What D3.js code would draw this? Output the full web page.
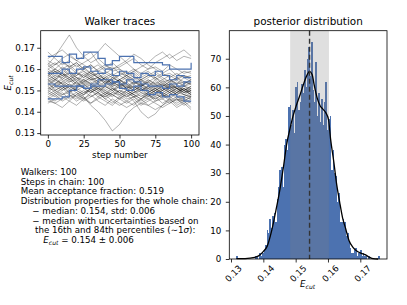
<!DOCTYPE html>
<html>
<head>
<meta charset="utf-8">
<script src="https://cdn.jsdelivr.net/npm/d3@7"></script>
<style>
  body { margin: 0; background: #fff; }
  svg { display: block; font-family: "DejaVu Sans", sans-serif; }
</style>
</head>
<body>
<svg id="chart" width="407" height="305"></svg>
<script>
// ---- data ----

// walker traces, sampled every 5 steps (step 0 .. 100)
const traceSteps = d3.range(0, 101, 5);
const grayTraces = [
  [0.158,0.160,0.163,0.161,0.158,0.157,0.155,0.156,0.154,0.152,0.153,0.151,0.152,0.150,0.151,0.149,0.150,0.152,0.151,0.149,0.150],
  [0.151,0.150,0.148,0.149,0.147,0.149,0.150,0.148,0.147,0.149,0.148,0.146,0.147,0.149,0.148,0.150,0.148,0.147,0.149,0.148,0.147],
  [0.162,0.166,0.171,0.176,0.170,0.166,0.168,0.163,0.160,0.161,0.158,0.157,0.159,0.156,0.158,0.155,0.157,0.158,0.156,0.157,0.155],
  [0.145,0.144,0.146,0.148,0.145,0.147,0.143,0.140,0.136,0.131,0.134,0.139,0.142,0.144,0.143,0.145,0.146,0.144,0.146,0.145,0.147],
  [0.155,0.157,0.156,0.154,0.155,0.153,0.155,0.156,0.154,0.155,0.153,0.152,0.154,0.153,0.151,0.152,0.153,0.151,0.152,0.150,0.151],
  [0.160,0.158,0.161,0.159,0.157,0.160,0.162,0.159,0.158,0.156,0.157,0.159,0.156,0.155,0.157,0.156,0.154,0.155,0.153,0.154,0.153],
  [0.148,0.150,0.152,0.149,0.151,0.153,0.150,0.152,0.149,0.148,0.150,0.149,0.147,0.148,0.146,0.148,0.147,0.149,0.147,0.146,0.148],
  [0.164,0.162,0.165,0.167,0.164,0.166,0.163,0.165,0.162,0.160,0.161,0.163,0.160,0.158,0.160,0.161,0.159,0.162,0.160,0.158,0.159],
  [0.153,0.151,0.154,0.156,0.153,0.151,0.149,0.151,0.150,0.152,0.149,0.147,0.149,0.150,0.148,0.146,0.148,0.150,0.148,0.147,0.149],
  [0.157,0.159,0.157,0.160,0.162,0.159,0.157,0.158,0.155,0.157,0.154,0.156,0.153,0.155,0.152,0.154,0.152,0.153,0.155,0.152,0.154],
  [0.146,0.148,0.145,0.147,0.149,0.147,0.144,0.146,0.148,0.145,0.143,0.145,0.147,0.144,0.146,0.144,0.142,0.144,0.146,0.143,0.145],
  [0.159,0.156,0.158,0.155,0.157,0.159,0.156,0.154,0.156,0.153,0.155,0.157,0.154,0.152,0.154,0.152,0.150,0.152,0.150,0.152,0.151],
  [0.150,0.153,0.151,0.153,0.150,0.148,0.151,0.149,0.152,0.150,0.152,0.150,0.148,0.150,0.152,0.149,0.151,0.149,0.151,0.149,0.150],
  [0.168,0.165,0.162,0.164,0.161,0.163,0.165,0.168,0.172,0.169,0.166,0.163,0.165,0.162,0.160,0.163,0.165,0.167,0.164,0.166,0.165],
  [0.154,0.156,0.153,0.155,0.152,0.154,0.156,0.153,0.151,0.153,0.155,0.152,0.150,0.152,0.150,0.148,0.150,0.152,0.149,0.151,0.149],
  [0.152,0.149,0.147,0.145,0.148,0.146,0.144,0.147,0.145,0.143,0.146,0.144,0.146,0.143,0.145,0.147,0.144,0.146,0.143,0.145,0.142],
  [0.161,0.163,0.160,0.162,0.159,0.161,0.158,0.160,0.162,0.159,0.160,0.158,0.160,0.157,0.159,0.156,0.158,0.160,0.157,0.159,0.158],
  [0.149,0.147,0.150,0.152,0.150,0.148,0.150,0.147,0.149,0.151,0.148,0.150,0.148,0.146,0.149,0.147,0.149,0.147,0.145,0.147,0.146],
  [0.156,0.154,0.152,0.154,0.156,0.155,0.153,0.155,0.157,0.154,0.152,0.154,0.151,0.153,0.155,0.153,0.151,0.153,0.151,0.150,0.152],
  [0.144,0.146,0.149,0.146,0.148,0.150,0.147,0.149,0.146,0.148,0.146,0.149,0.147,0.145,0.147,0.149,0.146,0.148,0.150,0.148,0.147],
  [0.163,0.160,0.158,0.161,0.163,0.160,0.158,0.156,0.158,0.160,0.162,0.164,0.167,0.165,0.162,0.160,0.158,0.156,0.158,0.156,0.157],
  [0.157,0.155,0.157,0.158,0.156,0.154,0.156,0.158,0.155,0.153,0.155,0.153,0.151,0.153,0.151,0.153,0.155,0.152,0.154,0.152,0.153],
  [0.147,0.149,0.151,0.148,0.146,0.148,0.151,0.149,0.147,0.149,0.152,0.150,0.148,0.146,0.148,0.146,0.148,0.145,0.147,0.145,0.147],
  [0.155,0.152,0.150,0.152,0.154,0.151,0.149,0.152,0.154,0.151,0.149,0.147,0.149,0.151,0.149,0.151,0.149,0.151,0.148,0.150,0.148],
  [0.160,0.162,0.164,0.161,0.163,0.160,0.162,0.159,0.161,0.163,0.160,0.157,0.159,0.161,0.163,0.166,0.168,0.165,0.167,0.169,0.166],
  [0.151,0.153,0.155,0.152,0.150,0.152,0.154,0.151,0.149,0.147,0.150,0.148,0.145,0.140,0.137,0.139,0.143,0.146,0.144,0.146,0.144],
  [0.158,0.155,0.153,0.150,0.152,0.155,0.153,0.151,0.153,0.156,0.154,0.151,0.153,0.155,0.153,0.150,0.152,0.154,0.156,0.153,0.155],
  [0.153,0.155,0.158,0.156,0.159,0.156,0.158,0.156,0.153,0.155,0.157,0.155,0.157,0.154,0.156,0.158,0.155,0.157,0.155,0.157,0.156],
  [0.146,0.144,0.142,0.145,0.143,0.146,0.148,0.145,0.143,0.146,0.144,0.142,0.144,0.146,0.143,0.141,0.143,0.145,0.142,0.144,0.141],
  [0.165,0.167,0.169,0.166,0.164,0.162,0.160,0.162,0.159,0.157,0.159,0.156,0.158,0.155,0.157,0.159,0.156,0.154,0.156,0.154,0.153],
  [0.150,0.148,0.151,0.153,0.151,0.149,0.151,0.153,0.150,0.148,0.146,0.148,0.150,0.152,0.149,0.151,0.153,0.150,0.152,0.150,0.148],
  [0.157,0.160,0.158,0.156,0.153,0.155,0.157,0.154,0.156,0.158,0.155,0.153,0.150,0.152,0.154,0.151,0.149,0.151,0.153,0.150,0.152],
  [0.154,0.150,0.152,0.149,0.151,0.154,0.152,0.150,0.148,0.151,0.149,0.152,0.150,0.147,0.149,0.151,0.148,0.150,0.148,0.151,0.149],
  [0.156,0.159,0.155,0.158,0.154,0.157,0.159,0.156,0.153,0.156,0.154,0.151,0.154,0.152,0.155,0.153,0.150,0.153,0.151,0.149,0.151],
  [0.152,0.155,0.153,0.151,0.154,0.151,0.153,0.150,0.152,0.150,0.147,0.150,0.152,0.149,0.147,0.150,0.148,0.146,0.149,0.151,0.148],
  [0.159,0.157,0.160,0.157,0.155,0.158,0.155,0.153,0.156,0.153,0.151,0.154,0.156,0.153,0.150,0.152,0.154,0.151,0.149,0.152,0.150],
  [0.149,0.152,0.154,0.151,0.149,0.146,0.149,0.151,0.148,0.150,0.153,0.151,0.149,0.151,0.148,0.150,0.152,0.149,0.151,0.148,0.150],
  [0.155,0.153,0.156,0.159,0.156,0.153,0.151,0.154,0.152,0.154,0.152,0.155,0.153,0.150,0.152,0.155,0.152,0.154,0.151,0.153,0.155],
  [0.162,0.159,0.157,0.155,0.158,0.156,0.159,0.157,0.155,0.152,0.155,0.157,0.155,0.152,0.154,0.156,0.153,0.155,0.153,0.156,0.154],
  [0.147,0.145,0.148,0.150,0.147,0.145,0.147,0.149,0.146,0.144,0.147,0.145,0.143,0.146,0.148,0.145,0.147,0.149,0.146,0.144,0.146]
];
const blueTraces = [
  [0.166,0.166,0.163,0.167,0.165,0.168,0.168,0.165,0.162,0.164,0.166,0.166,0.163,0.163,0.163,0.163,0.162,0.160,0.160,0.160,0.163],
  [0.146,0.146,0.147,0.150,0.152,0.151,0.153,0.155,0.155,0.154,0.151,0.150,0.152,0.150,0.148,0.149,0.147,0.148,0.147,0.145,0.145],
  [0.158,0.158,0.160,0.158,0.160,0.161,0.159,0.158,0.160,0.157,0.159,0.158,0.156,0.158,0.157,0.159,0.157,0.155,0.157,0.156,0.156],
  [0.153,0.152,0.152,0.152,0.152,0.151,0.152,0.152,0.153,0.154,0.153,0.155,0.154,0.153,0.152,0.152,0.151,0.153,0.152,0.154,0.154]
];

// posterior histogram (100 bins between the sample min and max)
const histMin = 0.13169, histMax = 0.17605;
const histCounts = [
  1,0,0,0,0,0,0,0,0,0, 0,0,0,1,1,0,2,1,2,3,
  5,10,9,14,11,15,16,13,21,25, 31,32,25,40,42,38,53,54,47,52,
  44,60,62,52,55,61,58,66,60,70, 74,64,76,59,55,69,50,58,48,56,
  47,55,62,45,49,50,31,38,30,29, 20,23,13,13,14,13,8,9,6,4,
  2,2,3,4,1,2,3,1,2,1, 1,0,1,0,0,0,0,0,0,1
];
// kernel density curve
const kdeX = [0.1317,0.1328,0.1359,0.1384,0.1399,0.1412,0.1426,0.1439,0.1452,0.1462,0.1472,0.1483,0.1492,0.1503,0.1514,0.1524,0.1534,0.1543,0.1551,0.1557,0.1566,0.1576,0.1585,0.1594,0.1602,0.1608,0.1618,0.1627,0.1636,0.1645,0.1655,0.1665,0.1678,0.1690,0.1703,0.1715,0.1727,0.1740,0.1755];
const kdeY = [0.1,0.1,0.3,1.0,2.5,4.5,10,17,24.8,32,40,45.8,50,54,57.5,61,64,65.6,64.5,61,56.5,53.5,52.3,51,48.5,42,34,26,20,14.5,10.5,6.5,4,2.7,2.0,1.5,0.7,0.1,0];

// summary
const nWalkers = 100, nSteps = 100, acceptance = 0.519;
const median = 0.1543, lower = 0.1483, upper = 0.1603;
const medianTxt = "0.154", stdTxt = "0.006";

// ticks
const stepTicks = [0, 25, 50, 75, 100];
const traceTicks = [0.13, 0.14, 0.15, 0.16, 0.17];
const countTicks = [0, 10, 20, 30, 40, 50, 60, 70];
const eTicks = [0.13, 0.14, 0.15, 0.16, 0.17];

// ---- drawing ----
const svg = d3.select("#chart");
const fs = 8.7;
const blue = "#4c72b0";

function styleAxis(g) {
  g.select(".domain").remove();
  g.selectAll(".tick line").attr("stroke", "#000").attr("stroke-width", 0.8);
  g.selectAll(".tick text").attr("fill", "#000").style("font-size", fs + "px")
    .style("font-family", "DejaVu Sans, sans-serif");
}

function ecut(textSel) {
  textSel.append("tspan").attr("font-style", "italic").text("E");
  textSel.append("tspan").attr("font-style", "italic").attr("font-size", fs * 0.7)
    .attr("dy", 2).text("cut");
}

// left panel: walker traces
const L = { left: 40.7, right: 199, top: 30.7, bottom: 135 };
const xStep = d3.scaleLinear().domain([-5, 105.5]).range([L.left, L.right]);
const yTrace = d3.scaleLinear().domain([0.1291, 0.1780]).range([L.bottom, L.top]);

svg.append("clipPath").attr("id", "clipL").append("rect")
  .attr("x", L.left).attr("y", L.top)
  .attr("width", L.right - L.left).attr("height", L.bottom - L.top);

const grayLine = d3.line()
  .x((d, i) => xStep(traceSteps[i]))
  .y(d => yTrace(d));
const blueLine = d3.line()
  .x((d, i) => xStep(traceSteps[i]))
  .y(d => yTrace(d))
  .curve(d3.curveStepAfter);

const traces = svg.append("g").attr("clip-path", "url(#clipL)");
traces.selectAll("path.gray")
  .data(grayTraces)
  .enter().append("path")
  .attr("class", "gray")
  .attr("d", grayLine)
  .attr("fill", "none")
  .attr("stroke", "#000")
  .attr("stroke-opacity", 0.38)
  .attr("stroke-width", 0.8);
traces.selectAll("path.blue")
  .data(blueTraces)
  .enter().append("path")
  .attr("class", "blue")
  .attr("d", blueLine)
  .attr("fill", "none")
  .attr("stroke", blue)
  .attr("stroke-width", 1.2);

svg.append("g")
  .attr("transform", "translate(0," + L.bottom + ")")
  .call(d3.axisBottom(xStep).tickValues(stepTicks).tickSize(3.5).tickPadding(2.5))
  .call(styleAxis);
svg.append("g")
  .attr("transform", "translate(" + L.left + ",0)")
  .call(d3.axisLeft(yTrace).tickValues(traceTicks).tickFormat(d3.format(".2f")).tickSize(3.5).tickPadding(2.5))
  .call(styleAxis);

svg.append("rect")
  .attr("x", L.left).attr("y", L.top)
  .attr("width", L.right - L.left).attr("height", L.bottom - L.top)
  .attr("fill", "none").attr("stroke", "#000").attr("stroke-width", 0.8);

svg.append("text")
  .attr("x", (L.left + L.right) / 2).attr("y", 25)
  .attr("text-anchor", "middle").style("font-size", "10.4px")
  .text("Walker traces");
svg.append("text")
  .attr("x", (L.left + L.right) / 2).attr("y", 157.5)
  .attr("text-anchor", "middle").style("font-size", fs + "px")
  .text("step number");
svg.append("text")
  .attr("transform", "translate(11," + (L.top + L.bottom) / 2 + ") rotate(-90)")
  .attr("text-anchor", "middle").style("font-size", fs + "px")
  .call(ecut);

// summary text
const info = [
  { x: 20.7, t: "Walkers: " + nWalkers },
  { x: 20.7, t: "Steps in chain: " + nSteps },
  { x: 20.7, t: "Mean acceptance fraction: " + acceptance.toFixed(3) },
  { x: 20.7, t: "Distribution properties for the whole chain:" },
  { x: 32.3, t: "\u2212 median: " + medianTxt + ", std: " + stdTxt },
  { x: 32.3, t: "\u2212 median with uncertainties based on" }
];
info.forEach((d, i) => {
  svg.append("text").attr("x", d.x).attr("y", 175 + i * 9.7)
    .style("font-size", fs + "px").text(d.t);
});
const pct = svg.append("text").attr("x", 35).attr("y", 175 + 6 * 9.7).style("font-size", fs + "px");
pct.append("tspan").text("the 16th and 84th percentiles (\u223c1");
pct.append("tspan").attr("font-style", "italic").text("\u03c3");
pct.append("tspan").text("):");
const res = svg.append("text").attr("x", 43.3).attr("y", 175 + 7 * 9.7).style("font-size", fs + "px");
ecut(res);
res.append("tspan").attr("dy", -2).text(" = " + medianTxt + " \u00b1 " + stdTxt);

// right panel: posterior distribution
const R = { left: 229.3, right: 387, top: 30.7, bottom: 259 };
const xE = d3.scaleLinear().domain([0.12947, 0.17826]).range([R.left, R.right]);
const yCount = d3.scaleLinear().domain([0, 79.8]).range([R.bottom, R.top]);
const binW = (histMax - histMin) / histCounts.length;

svg.append("g").attr("shape-rendering", "crispEdges").selectAll("rect")
  .data(histCounts)
  .enter().append("rect")
  .attr("x", (d, i) => xE(histMin + i * binW))
  .attr("y", d => yCount(d))
  .attr("width", xE(histMin + binW) - xE(histMin) + 0.3)
  .attr("height", d => yCount(0) - yCount(d))
  .attr("fill", blue);

svg.append("rect")
  .attr("x", xE(lower)).attr("y", R.top)
  .attr("width", xE(upper) - xE(lower)).attr("height", R.bottom - R.top)
  .attr("fill", "#808080").attr("fill-opacity", 0.25);

svg.append("path")
  .datum(kdeX.map((x, i) => [x, kdeY[i]]))
  .attr("d", d3.line().x(d => xE(d[0])).y(d => yCount(d[1])).curve(d3.curveMonotoneX))
  .attr("fill", "none").attr("stroke", "#000").attr("stroke-width", 1.3);

svg.append("line")
  .attr("x1", xE(median)).attr("x2", xE(median))
  .attr("y1", R.top).attr("y2", R.bottom)
  .attr("stroke", "#333").attr("stroke-width", 1.4)
  .attr("stroke-dasharray", "5,3");

svg.append("g")
  .attr("transform", "translate(" + R.left + ",0)")
  .call(d3.axisLeft(yCount).tickValues(countTicks).tickSize(3.5).tickPadding(4.5))
  .call(styleAxis);

const xAxisR = svg.append("g")
  .attr("transform", "translate(0," + R.bottom + ")")
  .call(d3.axisBottom(xE).tickValues(eTicks).tickFormat(d3.format(".2f")).tickSize(3.5))
  .call(styleAxis);
xAxisR.selectAll(".tick text")
  .attr("y", null).attr("dy", null)
  .attr("text-anchor", "middle")
  .attr("dominant-baseline", "central")
  .attr("transform", "translate(2,14.5) rotate(-45)");

svg.append("rect")
  .attr("x", R.left).attr("y", R.top)
  .attr("width", R.right - R.left).attr("height", R.bottom - R.top)
  .attr("fill", "none").attr("stroke", "#000").attr("stroke-width", 0.8);

svg.append("text")
  .attr("x", (R.left + R.right) / 2).attr("y", 25)
  .attr("text-anchor", "middle").style("font-size", "10.4px")
  .text("posterior distribution");
svg.append("text")
  .attr("x", (R.left + R.right) / 2 - 0.5).attr("y", 287)
  .attr("text-anchor", "middle").style("font-size", fs + "px")
  .call(ecut);
</script>
</body>
</html>
